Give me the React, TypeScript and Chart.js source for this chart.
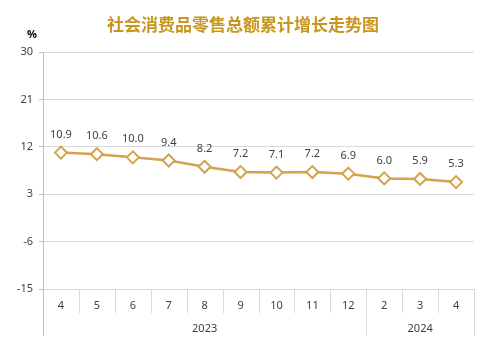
import React, { useEffect, useRef } from "react";
import { Chart, registerables } from "chart.js";

Chart.register(...registerables);

const TITLE = "社会消费品零售总额累计增长走势图";
const UNIT = "%";
const months = ["4", "5", "6", "7", "8", "9", "10", "11", "12", "2", "3", "4"];
const years = ["2023", "2024"];
const yearSpans = [9, 3];
const growth = [10.9, 10.6, 10.0, 9.4, 8.2, 7.2, 7.1, 7.2, 6.9, 6.0, 5.9, 5.3];
const yTicks = [-15, -6, 3, 12, 21, 30];

const GOLD_TITLE = "#C8961C";
const LINE = "#D4A24A";
const TEXT = "#404040";
const GRID = "#d9d9d9";
const AXIS = "#bfbfbf";
const FONT = "'Noto Sans', 'Liberation Sans', sans-serif";

const W = 492;
const H = 355;

const decorPlugin = {
  id: "decor",
  afterDraw(chart: any) {
    const ctx = chart.ctx;
    const area = chart.chartArea;
    ctx.save();
    // title
    ctx.fillStyle = GOLD_TITLE;
    ctx.font = "bold 17px 'Noto Sans CJK SC', sans-serif";
    ctx.textAlign = "center";
    ctx.textBaseline = "middle";
    ctx.fillText(TITLE, 243, 25);
    // unit
    ctx.fillStyle = "#000";
    ctx.font = "bold 11px " + FONT;
    ctx.fillText(UNIT, 32, 35);

    const n = months.length;
    const step = (area.right - area.left) / n;
    const bottom = area.bottom;
    // month dividers
    ctx.strokeStyle = GRID;
    ctx.lineWidth = 1;
    for (let i = 1; i < n; i++) {
      const px = Math.round(area.left + step * i) + 0.5;
      ctx.beginPath();
      ctx.moveTo(px, bottom);
      ctx.lineTo(px, bottom + 24);
      ctx.stroke();
    }
    // month labels
    ctx.fillStyle = TEXT;
    ctx.font = "11px " + FONT;
    for (let i = 0; i < n; i++) {
      ctx.fillText(months[i], area.left + step * (i + 0.5), bottom + 17);
    }
    // year dividers + labels
    let idx = 0;
    const yBottom = bottom + 47;
    for (let k = 0; k < years.length; k++) {
      const startPx = area.left + step * idx;
      idx += yearSpans[k];
      const endPx = area.left + step * idx;
      const ex = Math.round(endPx) + 0.5;
      ctx.strokeStyle = GRID;
      ctx.beginPath();
      ctx.moveTo(ex, bottom);
      ctx.lineTo(ex, yBottom);
      ctx.stroke();
      ctx.fillText(years[k], (startPx + endPx) / 2, bottom + 40);
    }
    // y axis line extended
    ctx.strokeStyle = AXIS;
    const ax = Math.round(area.left) + 0.5;
    ctx.beginPath();
    ctx.moveTo(ax, area.top);
    ctx.lineTo(ax, yBottom);
    ctx.stroke();

    // data labels
    const meta = chart.getDatasetMeta(0);
    ctx.fillStyle = TEXT;
    ctx.font = "11px " + FONT;
    meta.data.forEach((pt: any, i: number) => {
      ctx.fillText(growth[i].toFixed(1), pt.x, pt.y - 18);
    });
    ctx.restore();
  },
};

export default function App() {
  const ref = useRef<HTMLCanvasElement | null>(null);
  useEffect(() => {
    document.body.style.margin = "0";
    const chart = new Chart(ref.current as HTMLCanvasElement, {
      type: "line",
      data: {
        labels: months,
        datasets: [
          {
            data: growth,
            borderColor: LINE,
            borderWidth: 2.5,
            pointStyle: "rectRot",
            pointRadius: 6,
            pointBorderWidth: 2,
            pointBackgroundColor: "#ffffff",
            pointBorderColor: LINE,
            tension: 0,
          },
        ],
      },
      options: {
        animation: false,
        responsive: false,
        devicePixelRatio: 1,
        layout: { padding: { top: 52, right: 18, left: 0, bottom: 0 } },
        plugins: { legend: { display: false }, tooltip: { enabled: false }, title: { display: false } },
        scales: {
          x: {
            type: "category",
            offset: true,
            grid: { display: false, offset: true },
            border: { display: true, color: GRID },
            ticks: { display: false },
            afterFit: (s: any) => {
              s.height = 66;
            },
          },
          y: {
            min: -15,
            max: 30,
            afterBuildTicks: (s: any) => {
              s.ticks = yTicks.map((v) => ({ value: v }));
            },
            grid: { color: GRID, tickLength: 4, tickColor: AXIS, drawTicks: true },
            border: { display: false },
            ticks: { color: TEXT, font: { family: FONT, size: 11 }, padding: 6 },
            afterFit: (s: any) => {
              s.width = 43;
            },
          },
        },
      },
      plugins: [decorPlugin],
    } as any);
    return () => chart.destroy();
  }, []);
  return (
    <div style={{ position: "absolute", left: 0, top: 0, width: W, height: H, background: "#fff" }}>
      <canvas ref={ref} width={W} height={H} style={{ width: W, height: H }} />
    </div>
  );
}
